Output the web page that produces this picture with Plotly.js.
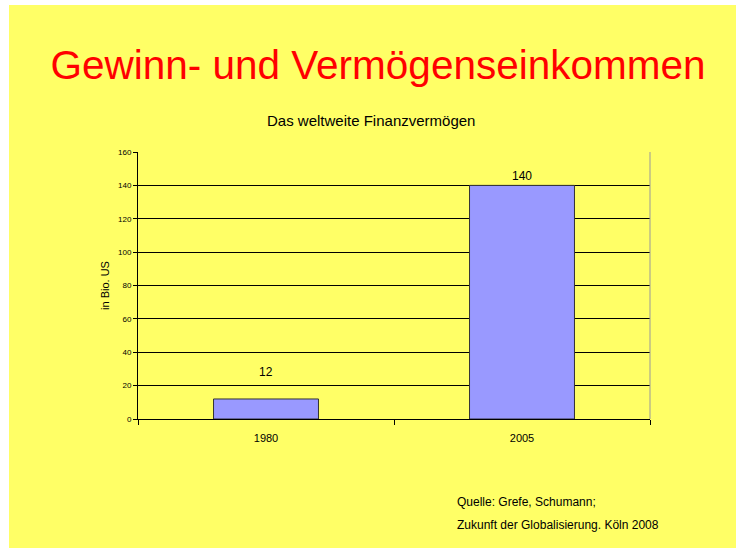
<!DOCTYPE html>
<html>
<head>
<meta charset="utf-8">
<script src="https://cdn.plot.ly/plotly-3.0.1.min.js"></script>
<style>
html,body{margin:0;padding:0;background:#ffffff;}
#chart{position:absolute;left:9px;top:5px;width:727px;height:543px;}
</style>
</head>
<body>
<div id="chart"></div>
<script>
var categories = ["1980", "2005"];
var values = [12, 140];
var valueLabels = ["12", "140"];
var yTickVals = [0, 20, 40, 60, 80, 100, 120, 140, 160];

var labelShift = [18, 0];

var W = 727, H = 543;
var margin = {l: 129, r: 86, t: 147, b: 129};

var trace = {
  type: "bar",
  x: categories,
  y: values,
  marker: {color: "#9999FF", line: {color: "#333333", width: 1}},
  hoverinfo: "skip"
};

var annotations = categories.map(function (c, i) {
  return {
    x: i, y: values[i], xref: "x", yref: "y",
    text: valueLabels[i], showarrow: false,
    yanchor: "bottom", yshift: labelShift[i],
    font: {family: "Liberation Sans, Arial, sans-serif", size: 12, color: "#000000"}
  };
});

function px(xPage) { return (xPage - 9 - margin.l) / (W - margin.l - margin.r); }
function py(yPage) { return 1 - (yPage - 5 - margin.t) / (H - margin.t - margin.b); }

annotations.push({
  xref: "paper", yref: "paper", x: px(371), y: py(121),
  text: "Das weltweite Finanzvermögen", showarrow: false,
  xanchor: "center", yanchor: "middle",
  font: {family: "Liberation Sans, Arial, sans-serif", size: 15, color: "#000000"}
});
annotations.push({
  xref: "paper", yref: "paper", x: px(455), y: py(502),
  text: "Quelle: Grefe, Schumann;", showarrow: false,
  xanchor: "left", yanchor: "middle",
  font: {family: "Liberation Sans, Arial, sans-serif", size: 12, color: "#000000"}
});
annotations.push({
  xref: "paper", yref: "paper", x: px(455), y: py(525),
  text: "Zukunft der Globalisierung. Köln 2008", showarrow: false,
  xanchor: "left", yanchor: "middle",
  font: {family: "Liberation Sans, Arial, sans-serif", size: 12, color: "#000000"}
});

var layout = {
  width: W, height: H,
  margin: margin,
  paper_bgcolor: "#FFFF66",
  plot_bgcolor: "#FFFF66",
  showlegend: false,
  bargap: 0.59,
  title: {
    text: "Gewinn- und Vermögenseinkommen",
    font: {family: "Liberation Sans, Arial, sans-serif", size: 40.5, color: "#FF0000"},
    x: (378 - 9) / W, xref: "container", xanchor: "center",
    y: 1 - 60 / H, yref: "container", yanchor: "middle"
  },
  xaxis: {
    type: "category",
    range: [-0.5, 1.5],
    showline: true, linecolor: "#000000", linewidth: 1,
    ticks: "outside", tickson: "boundaries", ticklen: 5, tickcolor: "#000000",
    tickangle: 0, ticklabelstandoff: 9,
    tickfont: {family: "Liberation Sans, Arial, sans-serif", size: 11, color: "#000000"},
    showgrid: false, zeroline: false, fixedrange: true
  },
  yaxis: {
    range: [0, 160],
    tickvals: yTickVals,
    ticktext: yTickVals.map(String),
    showline: true, linecolor: "#000000", linewidth: 1,
    ticks: "outside", ticklen: 4, tickcolor: "#000000",
    tickfont: {family: "Liberation Sans, Arial, sans-serif", size: 8, color: "#000000"},
    showgrid: true, gridcolor: "#000000", gridwidth: 1,
    zeroline: false, fixedrange: true,
    title: {
      text: "in Bio. US",
      font: {family: "Liberation Sans, Arial, sans-serif", size: 11, color: "#000000"},
      standoff: 6
    }
  },
  shapes: [{
    type: "line", xref: "paper", yref: "paper",
    x0: 1, x1: 1, y0: 0, y1: 1,
    line: {color: "#999999", width: 1}
  }],
  annotations: annotations
};

Plotly.newPlot("chart", [trace], layout, {displayModeBar: false, staticPlot: true});
</script>
</body>
</html>
